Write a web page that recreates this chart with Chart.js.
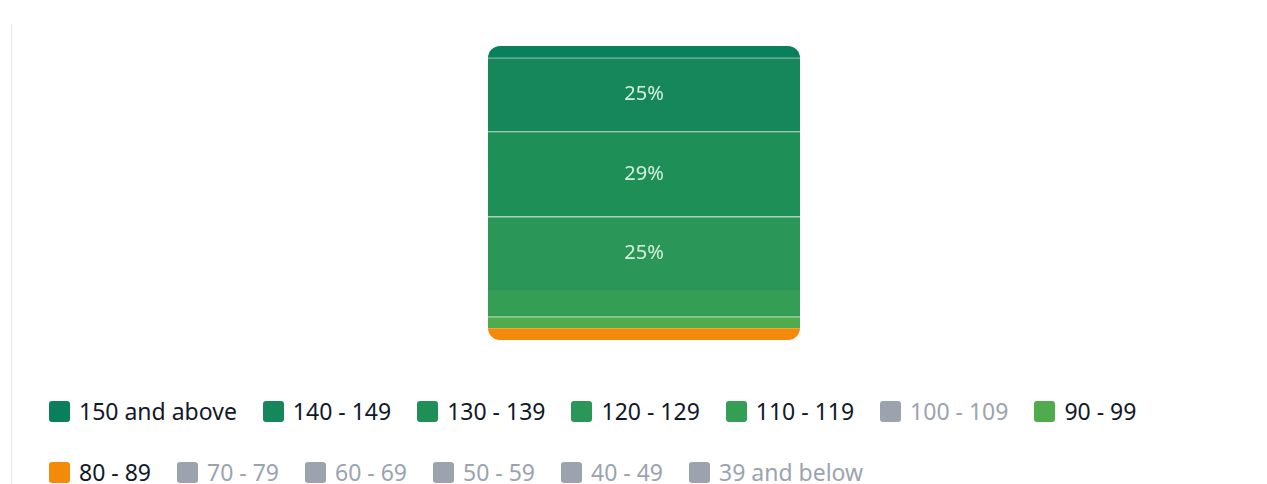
<!DOCTYPE html>
<html>
<head>
<meta charset="utf-8">
<script src="https://cdn.jsdelivr.net/npm/chart.js@4"></script>
<style>
  body { margin: 0; background: #fff; font-family: "Noto Sans", sans-serif; }
  .frame { position: absolute; left: 11px; top: 24px; width: 1256px; height: 460px; border-left: 1px solid #e5e7eb; }
  .chart-box { position: absolute; left: 12px; top: 0; width: 1255px; height: 360px; }
  #legend { position: absolute; left: 49px; top: 396px; width: 1180px; margin: 0; padding: 0;
            list-style: none; display: flex; flex-wrap: wrap; column-gap: 26px; row-gap: 31px; }
  #legend li { display: flex; align-items: center; height: 30px; font-size: 23px; color: #111827; cursor: pointer; }
  #legend li span.box { width: 21px; height: 21px; border-radius: 3px; margin-right: 9px; box-sizing: border-box; }
  #legend li.off { color: #9ca3af; }
</style>
</head>
<body>
<div class="frame"></div>
<div class="chart-box"><canvas id="bandChart"></canvas></div>
<ul id="legend"></ul>
<script>
// score bands, top of the bar first
const bands = ['150 and above', '140 - 149', '130 - 139', '120 - 129', '110 - 119', '100 - 109',
               '90 - 99', '80 - 89', '70 - 79', '60 - 69', '50 - 59', '40 - 49', '39 and below'];
// share of students in each band (%)
const shares = [4, 25, 29, 25, 9, 0, 4, 4, 0, 0, 0, 0, 0];
const bandColors = ['#0a7f5b', '#16875a', '#1f8f58', '#2a9657', '#339e54', '#9ca3af',
                    '#4fab4c', '#f5890a', '#9ca3af', '#9ca3af', '#9ca3af', '#9ca3af', '#9ca3af'];
const GREY = '#9ca3af';

// which segments get the faint separator line on top
const topLines = [0, 1, 1, 1, 0, 0, 1, 0, 0, 0, 0, 0, 0];

// mix a hex colour with white
function lighten(hex, amt) {
    const n = parseInt(hex.slice(1), 16);
    const c = [n >> 16, (n >> 8) & 255, n & 255].map(v => Math.round(v + (255 - v) * amt));
    return `rgb(${c[0]},${c[1]},${c[2]})`;
}

// round the outer ends of the whole stack (segments are too thin for borderRadius)
const stackClip = {
    id: 'stackClip',
    beforeDatasetsDraw(chart) {
        let top = Infinity, bottom = -Infinity, left = 0, right = 0;
        chart.data.datasets.forEach((ds, i) => {
            if (!chart.isDatasetVisible(i) || !ds.data[0]) return;
            const p = chart.getDatasetMeta(i).data[0].getProps(['x', 'y', 'base', 'width'], true);
            top = Math.min(top, p.y, p.base);
            bottom = Math.max(bottom, p.y, p.base);
            left = p.x - p.width / 2;
            right = p.x + p.width / 2;
        });
        const ctx = chart.ctx;
        ctx.save();
        if (top === Infinity) return;
        ctx.beginPath();
        ctx.roundRect(left, top, right - left, bottom - top, 12);
        ctx.clip();
    },
    afterDatasetsDraw(chart) {
        chart.ctx.restore();
    }
};

// write the % inside the bigger segments
const segmentLabels = {
    id: 'segmentLabels',
    afterDatasetsDraw(chart) {
        const ctx = chart.ctx;
        ctx.save();
        ctx.font = '20px "Noto Sans"';
        ctx.fillStyle = '#d3f0dc';
        ctx.textAlign = 'center';
        ctx.textBaseline = 'middle';
        chart.data.datasets.forEach((ds, i) => {
            const v = ds.data[0];
            if (v < 10 || !chart.isDatasetVisible(i)) return;
            const p = chart.getDatasetMeta(i).data[0].getProps(['x', 'y', 'base'], true);
            ctx.fillText(v + '%', p.x, (p.y + p.base) / 2);
        });
        ctx.restore();
    }
};

// html legend built from the chart's datasets
const htmlLegend = {
    id: 'htmlLegend',
    afterUpdate(chart) {
        const ul = document.getElementById('legend');
        ul.innerHTML = '';
        chart.data.datasets.forEach((ds, i) => {
            const li = document.createElement('li');
            const empty = shares[i] === 0 || !chart.isDatasetVisible(i);
            if (empty) li.className = 'off';
            const box = document.createElement('span');
            box.className = 'box';
            box.style.background = empty ? GREY : ds.backgroundColor;
            li.appendChild(box);
            li.appendChild(document.createTextNode(ds.label));
            li.onclick = () => {
                chart.setDatasetVisibility(i, !chart.isDatasetVisible(i));
                chart.update();
            };
            ul.appendChild(li);
        });
    }
};

const ctx = document.getElementById('bandChart').getContext('2d');
const bandChart = new Chart(ctx, {
    type: 'bar',
    data: {
        labels: ['Students'],
        datasets: bands.map((name, i) => ({
            label: name,
            data: [shares[i]],
            backgroundColor: bandColors[i],
            borderColor: lighten(bandColors[i], 0.22),
            borderWidth: { top: topLines[i], left: 0, right: 0, bottom: 0 },
            borderSkipped: false,
            inflateAmount: 0,
            barThickness: 312
        }))
    },
    options: {
        responsive: true,
        maintainAspectRatio: false,
        animation: false,
        layout: { padding: { top: 46, bottom: 20, left: 9, right: 0 } },
        scales: {
            x: { stacked: true, display: false },
            y: { stacked: true, display: false, reverse: true, min: 0, max: 100 }
        },
        plugins: {
            legend: { display: false },
            tooltip: { enabled: true }
        }
    },
    plugins: [stackClip, segmentLabels, htmlLegend]
});
</script>
</body>
</html>
